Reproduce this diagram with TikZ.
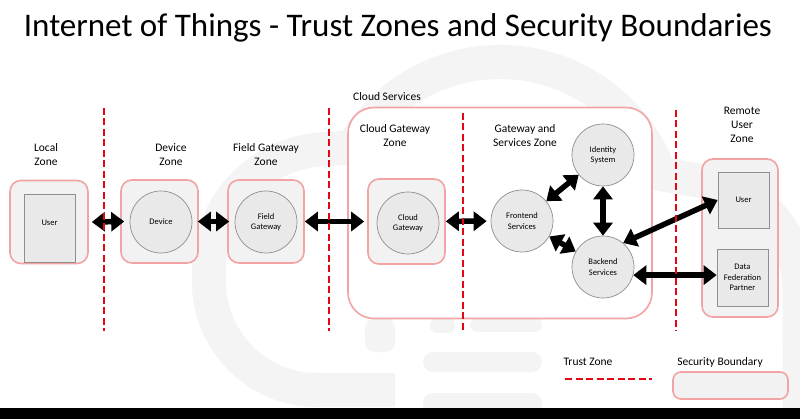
\documentclass[tikz,border=0pt]{standalone}
\usepackage{fontspec}
\setmainfont{Carlito}
\usetikzlibrary{arrows.meta}
\definecolor{bndred}{HTML}{F3A3A3}
\definecolor{bndfill}{HTML}{F2F2F2}
\definecolor{itemfill}{HTML}{E9E9E9}
\definecolor{itemline}{HTML}{8F8F8F}
\definecolor{trustred}{HTML}{E30613}
\definecolor{wmgray}{HTML}{F4F4F4}

\begin{document}
\begin{tikzpicture}[x=1pt,y=-1pt,
  boundary/.style={draw=bndred, line width=1.6pt, fill=bndfill, rounded corners=11pt, inner sep=0pt},
  item/.style={draw=itemline, fill=itemfill, line width=.7pt, inner sep=0pt, align=center, font=\fontsize{8.5}{10.5}\selectfont},
  circ/.style={item, circle, minimum size=62pt},
  sqr/.style={item, rectangle},
  zonelbl/.style={align=center, font=\fontsize{11.5}{14}\selectfont},
  trust/.style={draw=trustred, line width=2.4pt, dash pattern=on 7pt off 3.5pt},
  link/.style={line width=5.5pt, {Triangle[length=13pt,width=19pt]}-{Triangle[length=13pt,width=19pt]}}]

\useasboundingbox (0,0) rectangle (800,419);
\fill[white] (0,0) rectangle (800,419);

% faint cloud in the back
\draw[wmgray, line width=34pt] (395,390) -- (317,390) arc[start angle=90, end angle=180, radius=108]
  -- (209,270) arc[start angle=180, end angle=270, radius=121] -- (353,147)
  arc[start angle=210, end angle=340, radius=170] -- (718,184)
  arc[start angle=285, end angle=360, radius=110] -- (800,420);
\fill[wmgray, rounded corners=10pt] (423,352) rectangle (542,372);
\fill[wmgray, rounded corners=10pt] (423,393) rectangle (542,420);
\fill[wmgray, rounded corners=10pt] (365,318) rectangle (395,352);
\fill[wmgray, rounded corners=7pt] (430,318) rectangle (455,333);
\fill[wmgray, rounded corners=7pt] (470,318) rectangle (542,332);

\node[font=\fontsize{33}{40}\selectfont, anchor=base] (title) at (398,37) {Internet of Things - Trust Zones and Security Boundaries};

% security boundaries
\node[boundary, minimum width=78pt, minimum height=83pt] (localzone) at (49,222) {};
\node[boundary, minimum width=77pt, minimum height=83pt] (devicezone) at (159.5,221.5) {};
\node[boundary, minimum width=76pt, minimum height=83pt] (fieldzone) at (266,221.5) {};
\node[boundary, fill=white, rounded corners=26pt, minimum width=304pt, minimum height=211pt] (cloudsvc) at (500,213) {};
\node[boundary, minimum width=77pt, minimum height=85pt] (cloudgwzone) at (406.5,221.5) {};
\node[boundary, minimum width=76pt, minimum height=158pt] (remotezone) at (740,238) {};

% zone names
\node[zonelbl] (lbllocal) at (46,155) {Local\\Zone};
\node[zonelbl] (lbldevice) at (171,155) {Device\\Zone};
\node[zonelbl] (lblfield) at (266,155) {Field Gateway\\Zone};
\node[zonelbl] (lblcloud) at (387,97) {Cloud Services};
\node[zonelbl] (lblcloudgw) at (395,136) {Cloud Gateway\\Zone};
\node[zonelbl] (lblservices) at (525,136) {Gateway and\\Services Zone};
\node[zonelbl] (lblremote) at (742,125) {Remote\\User\\Zone};

% components
\node[sqr, minimum width=51pt, minimum height=68pt, text depth=10pt] (luser) at (49.5,228) {User};
\node[circ] (device) at (161,222) {Device};
\node[circ] (fieldgw) at (266,222) {Field\\Gateway};
\node[circ] (cloudgw) at (408,223) {Cloud\\Gateway};
\node[circ] (identity) at (603,155) {Identity\\System};
\node[circ] (frontend) at (522,221) {Frontend\\Services};
\node[circ] (backend) at (603,267) {Backend\\Services};
\node[sqr, minimum width=51pt, minimum height=56pt] (ruser) at (743.5,200) {User};
\node[sqr, minimum width=51pt, minimum height=57pt] (dfp) at (742.5,277.5) {Data\\Federation\\Partner};

% data flows
\draw[link] ([xshift=3pt]localzone.east) -- ([xshift=4pt]devicezone.west);
\draw[link] ([xshift=-1pt]devicezone.east) -- ([xshift=2pt]fieldzone.west);
\draw[link, shorten >=3pt] (fieldzone) -- (cloudgwzone);
\draw[link, shorten >=4pt] (cloudgwzone) -- (frontend);
\draw[link] (frontend) -- (identity);
\draw[link] (identity) -- (backend);
\draw[link] (frontend) -- (backend);
\draw[link] (backend.50) -- (ruser.west);
\draw[link] (backend.-15) -- (dfp.west |- backend.-15);

% trust zones
\foreach \x/\t in {104/108, 329/108, 463/113, 676/110}
  \draw[trust] (\x,\t) -- (\x,331);

% legend
\node[zonelbl] (trustlbl) at (588,362) {Trust Zone};
\node[zonelbl] (seclbl) at (720,362) {Security Boundary};
\draw[trust] (565,379) -- (652,379);
\node[boundary, rounded corners=8pt, minimum width=115pt, minimum height=27pt] (legendbox) at (730.5,385.5) {};

\fill[black] (0,408) rectangle (800,419);
\end{tikzpicture}
\end{document}
